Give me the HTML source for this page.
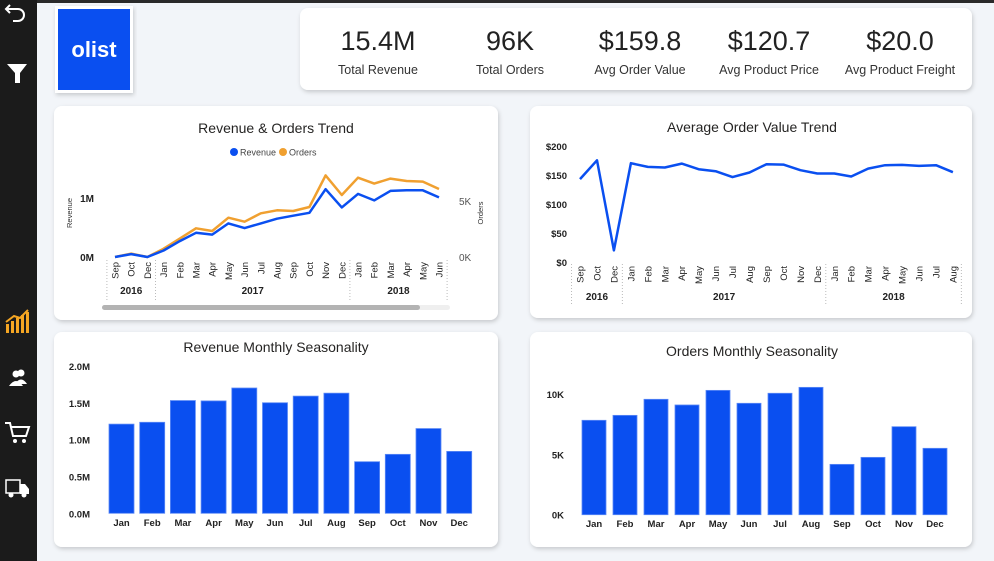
<!DOCTYPE html>
<html><head><meta charset="utf-8"><style>
html,body{margin:0;padding:0;width:994px;height:561px;overflow:hidden;background:#f2f5f9;font-family:"Liberation Sans",sans-serif}
svg{display:block}
</style></head><body>
<svg id="s" width="994" height="561" xmlns="http://www.w3.org/2000/svg" font-family="Liberation Sans, sans-serif">
<defs><filter id="sh" x="-5%" y="-5%" width="110%" height="115%"><feDropShadow dx="1" dy="2" stdDeviation="2" flood-color="#000" flood-opacity="0.18"/></filter></defs>
<rect x="0" y="0" width="994" height="561" fill="#f2f5f9"/>
<rect x="0" y="0" width="994" height="3" fill="#2a2a2a"/>
<g>
<rect x="0" y="0" width="37" height="561" fill="#1b1b1b"/>
<g><path d="M11 12 L7 16 L11 20 M7 16 H19 a6 6 0 0 1 0 12 H14" transform="translate(-1,-7)" fill="none" stroke="#fff" stroke-width="2"/></g>
<g><path d="M7 64 H27 L20 73 V83 H15 V73 Z" fill="#fff"/></g>
<g fill="#f5a623"><rect x="6" y="324" width="3" height="9"/><rect x="11" y="321" width="3" height="12"/><rect x="16" y="318" width="3" height="15"/><rect x="21" y="315" width="3" height="18"/><rect x="26" y="312" width="3" height="21"/><path d="M6 322 L14 316 L20 318 L28 310" fill="none" stroke="#f5a623" stroke-width="2"/></g>
<g fill="#fff"><circle cx="21" cy="373" r="3.5"/><path d="M15 384 q6 -9 12 0z"/><circle cx="16" cy="374" r="3.5"/><path d="M9 386 q7 -10 14 0z"/></g>
<g><path d="M5 423 H10 L13 436 H26 L29 427 H11" fill="none" stroke="#fff" stroke-width="2"/><circle cx="15" cy="441" r="2" fill="#fff"/><circle cx="24" cy="441" r="2" fill="#fff"/></g>
<g><rect x="6" y="480" width="14" height="13" fill="none" stroke="#fff" stroke-width="1.5"/><path d="M20 484 H25 L29 489 V494 H20 Z" fill="#fff"/><circle cx="11" cy="495" r="2.5" fill="#fff"/><circle cx="24" cy="495" r="2.5" fill="#fff"/></g>
</g>
<g>
<rect x="55" y="6" width="78" height="87" fill="#fff" filter="url(#sh)"/>
<rect x="58" y="9" width="72" height="81" fill="#0a4ff0"/>
<text x="94" y="57" font-size="22" font-weight="bold" fill="#fff" text-anchor="middle">olist</text>
</g>
<g>
<rect x="300" y="8" width="672" height="82" rx="8" fill="#fff" filter="url(#sh)"/>
</g>
<rect x="54" y="106" width="444" height="214" rx="8" fill="#fff" filter="url(#sh)"/>
<rect x="530" y="106" width="442" height="212" rx="8" fill="#fff" filter="url(#sh)"/>
<rect x="54" y="332" width="444" height="215" rx="8" fill="#fff" filter="url(#sh)"/>
<rect x="530" y="332" width="442" height="215" rx="8" fill="#fff" filter="url(#sh)"/>
<g id="g"></g>
</svg>
<script>
const kpiValues = ["15.4M","96K","$159.8","$120.7","$20.0"];
const kpiLabels = ["Total Revenue","Total Orders","Avg Order Value","Avg Product Price","Avg Product Freight"];
const trendMonths = ["Sep","Oct","Dec","Jan","Feb","Mar","Apr","May","Jun","Jul","Aug","Sep","Oct","Nov","Dec","Jan","Feb","Mar","Apr","May","Jun"];
const trendRevenue = [0,0.05,0,0.11,0.27,0.41,0.38,0.57,0.49,0.57,0.65,0.70,0.75,1.15,0.84,1.07,0.96,1.12,1.13,1.13,1.01];
const trendOrders = [0,300,0,740,1640,2560,2320,3510,3150,3900,4170,4110,4460,7290,5540,7080,6550,7000,6790,6730,6070];
const aovMonths = ["Sep","Oct","Dec","Jan","Feb","Mar","Apr","May","Jun","Jul","Aug","Sep","Oct","Nov","Dec","Jan","Feb","Mar","Apr","May","Jun","Jul","Aug"];
const aovValues = [142.9,175.4,20,170.3,164,162.9,169.7,160,156.6,146.3,154.3,168.6,168,158.3,152.6,152.6,147.4,161,166.9,167.4,165.7,166.9,154.9];
const aovTicks = [0,50,100,150,200];
const seasonMonths = ["Jan","Feb","Mar","Apr","May","Jun","Jul","Aug","Sep","Oct","Nov","Dec"];
const seasonRevenue = [1.21,1.235,1.53,1.525,1.70,1.50,1.59,1.63,0.70,0.80,1.15,0.84];
const revTicks = [0,0.5,1.0,1.5,2.0];
const seasonOrders = [7820,8230,9560,9090,10300,9230,10060,10550,4170,4750,7290,5500];
const ordTicks = [0,5000,10000];

const NS="http://www.w3.org/2000/svg", G=document.getElementById('g');
function el(t,a,txt,p){const e=document.createElementNS(NS,t);for(const k in a)e.setAttribute(k,a[k]);if(txt!=null)e.textContent=txt;(p||G).appendChild(e);return e;}
const BLUE="#0a4ff0", ORANGE="#f0a030";

// KPIs
const kx=[378,510,640,769,900];
kpiValues.forEach((v,i)=>{
  const t=el('text',{x:kx[i],y:50,'font-size':27,fill:'#222','text-anchor':'middle'},v);
  
  
  const l=el('text',{x:kx[i],y:74,'font-size':12.5,fill:'#333','text-anchor':'middle'},kpiLabels[i]);
  
  
});

function title(x,y,s,n){const t=el('text',{x:x,y:y,'font-size':14,fill:'#252423','text-anchor':'middle'},s);
  
  }
function rotLabel(x,y,s,sz){const t=el('text',{x:0,y:0,'font-size':sz||10,fill:'#222','text-anchor':'end',transform:`translate(${x+3.5},${y}) rotate(-90)`},s);
  
  }
function line(xs,ys,c,n){const d=xs.map((x,i)=>(i?'L':'M')+x.toFixed(1)+' '+ys[i].toFixed(1)).join(' ');
  const p=el('path',{d:d,fill:'none',stroke:c,'stroke-width':2.5,'stroke-linejoin':'round'});
  
  }
function yearAxis(xStart,step,groups,yTop,yYear){
  let idx=0;
  groups.forEach((g,gi)=>{
    const x0=xStart+(idx-0.5)*step, x1=xStart+(idx+g[1]-0.5)*step;
    el('line',{x1:x0,y1:yTop,x2:x0,y2:yTop+42,stroke:'#bbb','stroke-dasharray':'1,2'});
    const t=el('text',{x:(x0+x1)/2,y:yYear,'font-size':10,'font-weight':'bold',fill:'#222','text-anchor':'middle'},g[0]);
    
    
    idx+=g[1];
    if(gi==groups.length-1) el('line',{x1:x1,y1:yTop,x2:x1,y2:yTop+42,stroke:'#bbb','stroke-dasharray':'1,2'});
  });
}

// Chart 1
title(276,133,"Revenue & Orders Trend","trend-title");
{const c=el('circle',{cx:234,cy:152,r:4,fill:BLUE});
el('text',{x:240,y:155.5,'font-size':9,fill:'#444'},'Revenue');
const c2=el('circle',{cx:283,cy:152,r:4,fill:ORANGE});
el('text',{x:289,y:155.5,'font-size':9,fill:'#444'},'Orders');}
const t1x=i=>115+i*16.2, t1y=v=>257-v*59, t1o=v=>257-v/5000*56;
[[0,'0M'],[1,'1M']].forEach(t=>{const e=el('text',{x:94,y:t1y(t[0])+4,'font-size':10,'font-weight':'bold',fill:'#222','text-anchor':'end'},t[1]);});
[[0,'0K'],[5000,'5K']].forEach(t=>{const e=el('text',{x:459,y:t1o(t[0])+4,'font-size':10,fill:'#555'},t[1]);});
{const e=el('text',{x:0,y:0,'font-size':7.5,fill:'#333','text-anchor':'middle',transform:'translate(72,213) rotate(-90)'},'Revenue');
const e2=el('text',{x:0,y:0,'font-size':7.5,fill:'#333','text-anchor':'middle',transform:'translate(483,213) rotate(-90)'},'Orders');}
trendMonths.forEach((m,i)=>rotLabel(t1x(i),262,m,9.5));
yearAxis(115,16.2,[["2016",3],["2017",12],["2018",6]],260,294);
line(trendOrders.map((v,i)=>t1x(i)),trendOrders.map(t1o),ORANGE,'orders-line');
line(trendRevenue.map((v,i)=>t1x(i)),trendRevenue.map(t1y),BLUE,'revenue-line');
el('rect',{x:102,y:305,width:348,height:5,rx:2.5,fill:'#efefef'});
{const sb=el('rect',{x:102,y:305,width:318,height:5,rx:2.5,fill:'#b3b3b3'});}

// Chart 2
title(752,132,"Average Order Value Trend","aov-title");
const a2x=i=>580+i*16.95, a2y=v=>262-v*0.58;
aovTicks.forEach(t=>{const e=el('text',{x:567,y:a2y(t)+4,'font-size':9.5,'font-weight':'bold',fill:'#222','text-anchor':'end'},'$'+t);});
aovMonths.forEach((m,i)=>rotLabel(a2x(i),266,m,9.5));
yearAxis(580,16.95,[["2016",3],["2017",12],["2018",8]],264,300);
line(aovValues.map((v,i)=>a2x(i)),aovValues.map(a2y),BLUE,'aov-line');

// Chart 3
title(276,352,"Revenue Monthly Seasonality","revenue-season-title");
const b3x=i=>109+i*30.7, b3y=v=>513.3-v*73.7;
revTicks.forEach(t=>{const e=el('text',{x:90,y:b3y(t)+4,'font-size':9.5,'font-weight':'bold',fill:'#222','text-anchor':'end'},t.toFixed(1)+'M');});
seasonRevenue.forEach((v,i)=>{const r=el('rect',{x:b3x(i),y:b3y(v),width:25,height:513.3-b3y(v),fill:BLUE,stroke:'#5d8af5','stroke-width':0.8});
  
  
  const t=el('text',{x:b3x(i)+12.5,y:526,'font-size':9.5,'font-weight':'bold',fill:'#222','text-anchor':'middle'},seasonMonths[i]);
  
  });

// Chart 4
title(752,356,"Orders Monthly Seasonality","orders-season-title");
const b4x=i=>582+i*31, b4y=v=>514.7-v*0.01207;
ordTicks.forEach(t=>{const e=el('text',{x:564,y:b4y(t)+4,'font-size':9.5,'font-weight':'bold',fill:'#222','text-anchor':'end'},(t/1000)+'K');});
seasonOrders.forEach((v,i)=>{const r=el('rect',{x:b4x(i),y:b4y(v),width:24,height:514.7-b4y(v),fill:BLUE,stroke:'#5d8af5','stroke-width':0.8});
  
  
  const t=el('text',{x:b4x(i)+12,y:527,'font-size':9.5,'font-weight':'bold',fill:'#222','text-anchor':'middle'},seasonMonths[i]);
  
  });
</script>
</body></html>
